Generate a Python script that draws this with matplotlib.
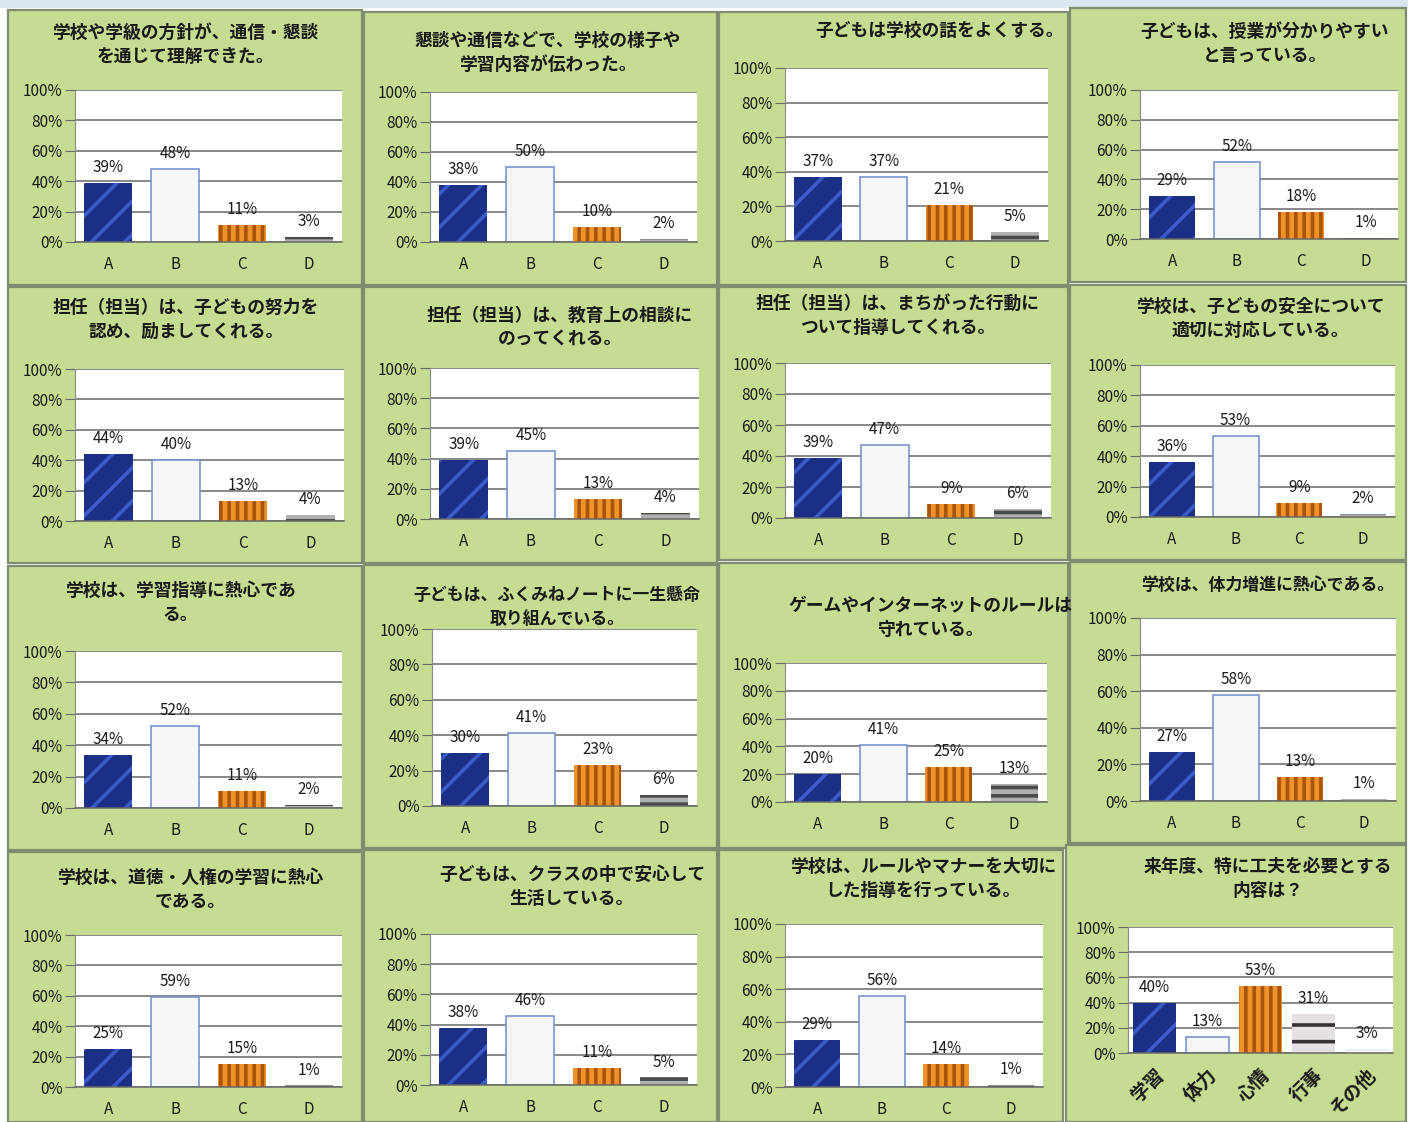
import matplotlib
matplotlib.use("Agg")
import matplotlib.pyplot as plt
from matplotlib.patches import Rectangle

plt.rcParams['font.family'] = ['Noto Sans CJK JP', 'DejaVu Sans']
plt.rcParams['hatch.linewidth'] = 2.6

# --- data ---
answers = ['A', 'B', 'C', 'D']

q01 = [39, 48, 11, 3]
q02 = [38, 50, 10, 2]
q03 = [37, 37, 21, 5]
q04 = [29, 52, 18, 1]
q05 = [44, 40, 13, 4]
q06 = [39, 45, 13, 4]
q07 = [39, 47, 9, 6]
q08 = [36, 53, 9, 2]
q09 = [34, 52, 11, 2]
q10 = [30, 41, 23, 6]
q11 = [20, 41, 25, 13]
q12 = [27, 58, 13, 1]
q13 = [25, 59, 15, 1]
q14 = [38, 46, 11, 5]
q15 = [29, 56, 14, 1]

next_year_items = ['学習', '体力', '心情', '行事', 'その他']
next_year_vals = [40, 13, 53, 31, 3]

titles = [
    '学校や学級の方針が、通信・懇談\nを通じて理解できた。',
    '懇談や通信などで、学校の様子や\n学習内容が伝わった。',
    '子どもは学校の話をよくする。',
    '子どもは、授業が分かりやすい\nと言っている。',
    '担任（担当）は、子どもの努力を\n認め、励ましてくれる。',
    '担任（担当）は、教育上の相談に\nのってくれる。',
    '担任（担当）は、まちがった行動に\nついて指導してくれる。',
    '学校は、子どもの安全について\n適切に対応している。',
    '学校は、学習指導に熱心であ\nる。',
    '子どもは、ふくみねノートに一生懸命\n取り組んでいる。',
    'ゲームやインターネットのルールは\n守れている。',
    '学校は、体力増進に熱心である。',
    '学校は、道徳・人権の学習に熱心\nである。',
    '子どもは、クラスの中で安心して\n生活している。',
    '学校は、ルールやマナーを大切に\nした指導を行っている。',
    '来年度、特に工夫を必要とする\n内容は？',
]
all_vals = [q01, q02, q03, q04, q05, q06, q07, q08, q09, q10,
            q11, q12, q13, q14, q15]

# --- layout in pixels (x0, y0, x1, y1) ---
W, H = 1408, 1122
panels = [
    (8, 10, 362, 285), (364, 12, 717, 285), (719, 12, 1068, 285), (1070, 8, 1406, 282),
    (8, 287, 362, 563), (364, 287, 717, 563), (719, 287, 1068, 560), (1070, 285, 1406, 560),
    (8, 566, 362, 850), (364, 565, 717, 848), (719, 563, 1068, 848), (1070, 562, 1406, 843),
    (8, 852, 362, 1122), (364, 850, 717, 1122), (719, 850, 1063, 1122), (1066, 845, 1406, 1122),
]
plots = [
    (75, 90, 342, 242), (430, 92, 697, 242), (785, 68, 1048, 241), (1140, 90, 1398, 239),
    (75, 369, 344, 521), (430, 368, 699, 519), (785, 363, 1051, 518), (1140, 365, 1395, 517),
    (75, 651, 342, 808), (432, 629, 697, 806), (785, 663, 1047, 802), (1140, 618, 1396, 801),
    (75, 935, 342, 1087), (430, 934, 697, 1085), (785, 924, 1043, 1087), (1128, 927, 1393, 1053),
]
title_pos = [
    (185, 45), (548, 53), (940, 31), (1265, 44),
    (186, 320), (560, 328), (898, 316), (1260, 319),
    (180, 603), (557, 607), (930, 618), (1268, 585),
    (190, 890), (572, 887), (923, 879), (1268, 879),
]
title_size = [12.8] * 16
title_size[9] = 12.2
title_size[11] = 12.2

bar_style = [
    dict(color='#1c2f86', edgecolor='#3a5cc8', hatch='/', linewidth=0),
    dict(color='#f6f6f6', edgecolor='#7a94cf', linewidth=1.2),
    dict(color='#f0922a', edgecolor='#a9540c', hatch='||', linewidth=0),
    dict(color='#b0b0b0', edgecolor='#4a4a4a', hatch='--', linewidth=0),
    dict(color='#f4f4f4', edgecolor='#e8e8e8', linewidth=0.5),
]
style16 = [bar_style[0], bar_style[1], bar_style[2],
           dict(color='#e4e0e4', edgecolor='#3a3038', hatch='-', linewidth=0),
           bar_style[4]]

fig = plt.figure(figsize=(W / 100, H / 100), dpi=100, facecolor='white')

# header strip
fig.patches.append(Rectangle((0, 1 - 8 / H), 1, 8 / H, transform=fig.transFigure,
                             facecolor='#dbe6ee', edgecolor='none', zorder=-10))


def px_rect(x0, y0, x1, y1):
    return [x0 / W, 1 - y1 / H, (x1 - x0) / W, (y1 - y0) / H]


def style_axis(ax):
    ax.set_facecolor('white')
    ax.set_ylim(0, 100)
    ax.set_yticks([0, 20, 40, 60, 80, 100])
    ax.set_yticklabels([f'{v}%' for v in range(0, 101, 20)])
    ax.yaxis.grid(True, color='#686868', linewidth=1.1)
    ax.set_axisbelow(True)
    for s in ['top', 'right']:
        ax.spines[s].set_visible(False)
    ax.spines['left'].set_color('#8a8a8a')
    ax.spines['bottom'].set_color('#686868')
    ax.spines['bottom'].set_linewidth(1.1)
    ax.tick_params(axis='y', length=7, color='#686868', labelsize=11, pad=2,
                   labelcolor='#1a1a1a')
    ax.tick_params(axis='x', length=0, labelsize=11, pad=10, labelcolor='#1a1a1a')


for i in range(16):
    x0, y0, x1, y1 = panels[i]
    fig.patches.append(Rectangle((x0 / W, 1 - y1 / H), (x1 - x0) / W, (y1 - y0) / H,
                                 transform=fig.transFigure, facecolor='#c6dc92',
                                 edgecolor='#7f8c72', linewidth=1.6, zorder=-10))
    tx, ty = title_pos[i]
    fig.text(tx / W, 1 - ty / H, titles[i], ha='center', va='center',
             fontsize=title_size[i], fontweight='bold', color='#1a1a1a',
             linespacing=1.4)

    ax = fig.add_axes(px_rect(*plots[i]))
    style_axis(ax)
    if i < 15:
        vals = all_vals[i]
        labels = answers
        styles = bar_style[:4]
        width = 0.72
    else:
        vals = next_year_vals
        labels = next_year_items
        styles = style16
        width = 0.83
    for j, v in enumerate(vals):
        ax.bar(j, v, width=width, **styles[j])
        ax.annotate(f'{v}%', (j, v), xytext=(0, 5), textcoords='offset points',
                    ha='center', va='bottom', fontsize=11, color='#1a1a1a')
    ax.set_xlim(-0.5, len(vals) - 0.5)
    ax.set_xticks(range(len(vals)))
    if i < 15:
        ax.set_xticklabels(labels)
    else:
        ax.set_xticklabels(labels, rotation=45, ha='right', rotation_mode='anchor',
                           fontweight='bold', fontsize=13.5)
        ax.tick_params(axis='x', pad=9)

fig.savefig('out.png', dpi=100, facecolor=fig.get_facecolor())
